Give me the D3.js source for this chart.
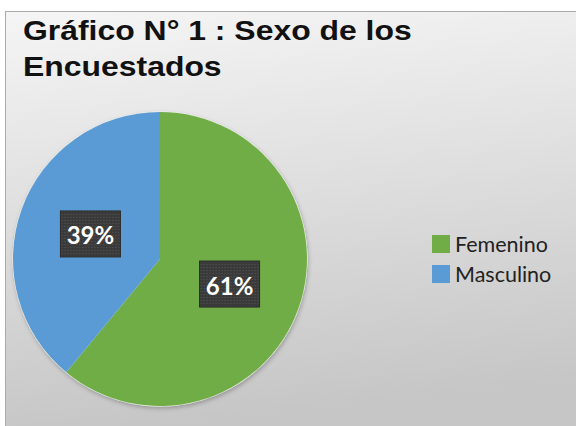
<!DOCTYPE html>
<html>
<head>
<meta charset="UTF-8">
<script src="https://cdn.jsdelivr.net/npm/d3@7"></script>
<style>
  body { margin: 0; background: #fff; }
  .title { font-family: "Liberation Sans", Arial, sans-serif; font-weight: bold; font-size: 28.5px; fill: #111; }
  .legend { font-family: Lato, "Open Sans", sans-serif; font-size: 21.5px; fill: #222; }
  .pct { font-family: Lato, "Open Sans", sans-serif; font-weight: bold; font-size: 24px; fill: #fff; text-anchor: middle; dominant-baseline: central; }
</style>
</head>
<body>
<svg id="svg" width="576" height="426"></svg>
<script>
  const categories = ["Femenino", "Masculino"];
  const values = [61, 39];
  const colors = ["#70ad47", "#5b9bd5"];
  const titleLines = ["Gráfico N° 1 : Sexo de los", "Encuestados"];

  var svg = d3.select("#svg"),
      rad = 147,
      cx = 160, cy = 259;

  var defs = svg.append("defs");
  var grad = defs.append("linearGradient").attr("id", "bg").attr("x1", 0).attr("y1", 0).attr("x2", 0.15).attr("y2", 1);
  grad.append("stop").attr("offset", "0%").attr("stop-color", "#f5f5f5");
  grad.append("stop").attr("offset", "100%").attr("stop-color", "#c6c6c6");

  // dotted texture for the label boxes
  var pat = defs.append("pattern").attr("id", "dots").attr("width", 3).attr("height", 3).attr("patternUnits", "userSpaceOnUse");
  pat.append("rect").attr("width", 3).attr("height", 3).attr("fill", "#3a3a3a");
  pat.append("rect").attr("x", 1).attr("y", 1).attr("width", 1).attr("height", 1).attr("fill", "#575757");

  var shadow = defs.append("filter").attr("id", "sh").attr("x", "-10%").attr("y", "-10%").attr("width", "130%").attr("height", "130%");
  shadow.append("feDropShadow").attr("dx", 1).attr("dy", 2).attr("stdDeviation", 2).attr("flood-color", "#000").attr("flood-opacity", 0.25);

  svg.append("rect").attr("x", 5.5).attr("y", 11.5).attr("width", 580).attr("height", 420)
    .attr("fill", "url(#bg)").attr("stroke", "#aaaaaa");

  // title
  var tg = svg.append("g").attr("transform", "translate(23,0) scale(1.12,1)");
  tg.selectAll("text").data(titleLines).enter().append("text")
    .attr("class", "title").attr("x", 0).attr("y", (d, i) => 40 + i * 36).text(d => d);

  // pie
  var pie = d3.pie().sort(null).value(d => d)(values);
  var arc = d3.arc().innerRadius(0).outerRadius(rad);
  var labelArc = d3.arc().innerRadius(rad * 0.503).outerRadius(rad * 0.503);
  var g = svg.append("g").attr("transform", "translate(" + cx + "," + cy + ")");
  g.append("circle").attr("r", rad + 0.5).attr("fill", "#eef4e8").attr("filter", "url(#sh)");
  g.selectAll("path").data(pie).enter().append("path")
    .attr("d", arc).attr("fill", (d, i) => colors[i]);

  var lab = g.selectAll("g.lab").data(pie).enter().append("g").attr("class", "lab")
    .attr("transform", d => "translate(" + labelArc.centroid(d) + ")");
  lab.append("rect").attr("x", -30).attr("y", -23).attr("width", 60).attr("height", 46)
    .attr("fill", "url(#dots)").attr("stroke", "#2a2a2a");
  lab.append("text").attr("class", "pct").attr("y", 1).text(d => d.data + "%");

  // legend
  var leg = svg.append("g").attr("transform", "translate(432,235)");
  var items = leg.selectAll("g").data(categories).enter().append("g")
    .attr("transform", (d, i) => "translate(0," + i * 30 + ")");
  items.append("rect").attr("width", 18).attr("height", 18).attr("fill", (d, i) => colors[i]);
  items.append("text").attr("class", "legend").attr("x", 23).attr("y", 17).text(d => d);
</script>
</body>
</html>
